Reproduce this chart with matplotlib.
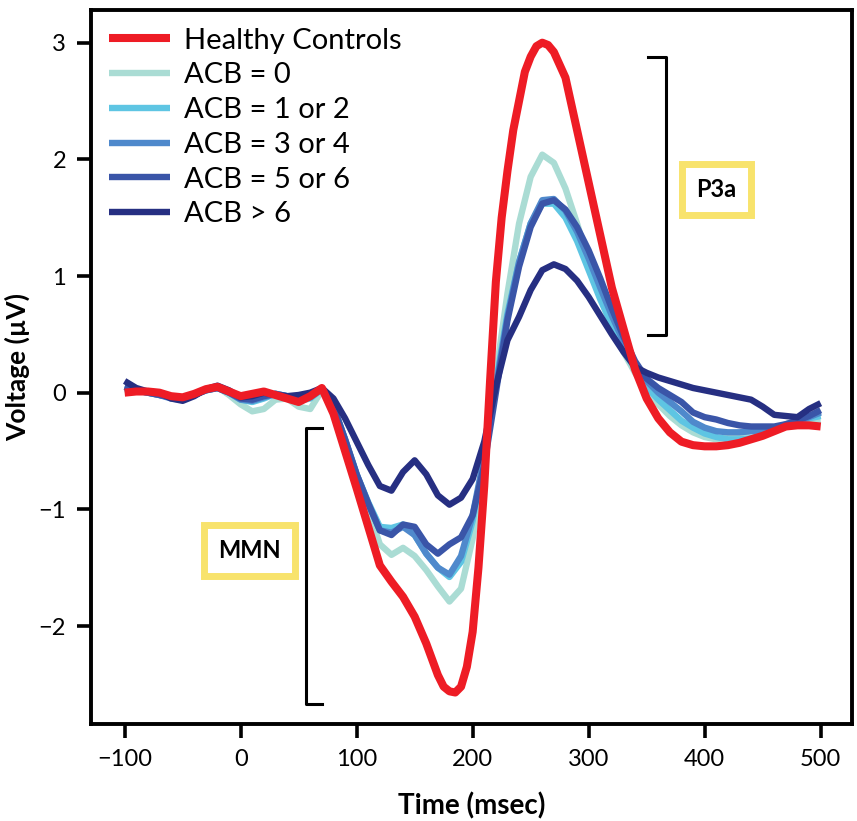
import matplotlib
matplotlib.use('Agg')
import matplotlib.pyplot as plt

plt.rcParams['font.family'] = ['Lato', 'DejaVu Sans']

time_ms = list(range(-100, 510, 10))

# red trace read at a finer step round the two peaks
healthy_ms = (list(range(-100, 170, 10)) + list(range(170, 275, 5))
              + list(range(280, 510, 10)))
healthy = [0.00, 0.01, 0.01, 0.00, -0.03, -0.04, -0.01, 0.03, 0.05, 0.01,
           -0.03, -0.01, 0.01, -0.02, -0.05, -0.08, -0.03, 0.04, -0.18, -0.50,
           -0.82, -1.15, -1.48, -1.62, -1.75, -1.92, -2.15,
           -2.42, -2.52, -2.56, -2.57, -2.52, -2.35, -2.05, -1.50, -0.80, 0.10,
           0.95, 1.50, 1.90, 2.25, 2.50, 2.75, 2.88, 2.97, 3.00, 2.98, 2.92,
           2.70, 2.25, 1.80, 1.35, 0.90, 0.55, 0.20, -0.05, -0.22, -0.34,
           -0.42, -0.45, -0.46, -0.46, -0.45, -0.43, -0.40, -0.37, -0.33, -0.29,
           -0.28, -0.28, -0.29]

acb_0 = [0.03, 0.02, 0.00, -0.02, -0.04, -0.04, -0.01, 0.03, 0.05, -0.02,
         -0.10, -0.16, -0.14, -0.06, -0.05, -0.12, -0.14, 0.02, -0.15, -0.42,
         -0.72, -1.00, -1.30, -1.39, -1.33, -1.40, -1.52, -1.66, -1.79, -1.68,
         -1.25, -0.62, 0.15, 0.85, 1.45, 1.85, 2.04, 1.97, 1.75, 1.45,
         1.12, 0.82, 0.56, 0.35, 0.17, 0.02, -0.10, -0.20, -0.28, -0.34,
         -0.38, -0.40, -0.38, -0.35, -0.33, -0.32, -0.30, -0.28, -0.26, -0.25,
         -0.24]

acb_1_2 = [0.04, 0.02, 0.00, -0.02, -0.04, -0.05, -0.02, 0.02, 0.04, 0.00,
           -0.06, -0.08, -0.05, -0.01, -0.03, -0.07, -0.05, 0.03, -0.12, -0.40,
           -0.70, -0.94, -1.15, -1.16, -1.13, -1.22, -1.38, -1.50, -1.58, -1.45,
           -1.10, -0.55, 0.08, 0.68, 1.12, 1.45, 1.62, 1.62, 1.50, 1.30,
           1.05, 0.80, 0.58, 0.38, 0.20, 0.05, -0.06, -0.15, -0.24, -0.30,
           -0.35, -0.38, -0.40, -0.40, -0.39, -0.36, -0.32, -0.27, -0.24, -0.22,
           -0.20]

acb_3_4 = [0.05, 0.02, 0.00, -0.02, -0.05, -0.06, -0.02, 0.02, 0.04, 0.00,
           -0.06, -0.07, -0.04, -0.01, -0.03, -0.06, -0.04, 0.03, -0.12, -0.40,
           -0.70, -0.95, -1.18, -1.20, -1.15, -1.22, -1.38, -1.50, -1.56, -1.40,
           -1.05, -0.55, 0.05, 0.65, 1.12, 1.45, 1.65, 1.66, 1.56, 1.38,
           1.15, 0.90, 0.66, 0.44, 0.25, 0.10, 0.00, -0.08, -0.16, -0.25,
           -0.30, -0.33, -0.34, -0.34, -0.33, -0.32, -0.31, -0.29, -0.25, -0.21,
           -0.17]

acb_5_6 = [0.05, 0.02, 0.00, -0.02, -0.04, -0.05, -0.02, 0.02, 0.04, 0.00,
           -0.05, -0.06, -0.03, -0.01, -0.03, -0.05, -0.02, 0.03, -0.12, -0.40,
           -0.70, -0.95, -1.18, -1.22, -1.13, -1.15, -1.30, -1.38, -1.30, -1.24,
           -1.05, -0.62, 0.00, 0.62, 1.08, 1.42, 1.62, 1.65, 1.57, 1.42,
           1.22, 0.98, 0.72, 0.48, 0.27, 0.12, 0.04, -0.02, -0.08, -0.17,
           -0.21, -0.23, -0.26, -0.28, -0.29, -0.29, -0.29, -0.27, -0.24, -0.20,
           -0.15]

acb_over_6 = [0.10, 0.04, 0.01, 0.00, -0.05, -0.07, -0.03, 0.03, 0.06, 0.02,
              -0.04, -0.03, 0.00, -0.02, -0.03, -0.02, 0.00, 0.04, -0.05, -0.22,
              -0.42, -0.62, -0.80, -0.84, -0.68, -0.58, -0.70, -0.88, -0.96, -0.90,
              -0.74, -0.42, 0.05, 0.45, 0.65, 0.88, 1.05, 1.10, 1.06, 0.96,
              0.82, 0.66, 0.50, 0.35, 0.22, 0.17, 0.13, 0.10, 0.07, 0.04,
              0.02, 0.00, -0.02, -0.04, -0.06, -0.12, -0.19, -0.20, -0.21, -0.14,
              -0.09]

labels = ['Healthy Controls', 'ACB = 0', 'ACB = 1 or 2', 'ACB = 3 or 4',
          'ACB = 5 or 6', 'ACB > 6']
colors = ['#ee1c25', '#aadcd4', '#5ec5e3', '#4f89cc', '#3a55a8', '#262f82']

# bracket ends (msec, µV)
p3a_bracket = ([351, 367, 367, 351], [2.88, 2.88, 0.49, 0.49])
mmn_bracket = ([70, 56, 56, 70], [-0.30, -0.30, -2.67, -2.67])

fig = plt.figure(figsize=(8.57, 8.21), dpi=100)
ax = fig.add_axes([91 / 857, 97 / 821, 761 / 857, 714 / 821])

series = [acb_0, acb_1_2, acb_3_4, acb_5_6, acb_over_6]
handles = {}
for vals, lab, col in zip(series, labels[1:], colors[1:]):
    h, = ax.plot(time_ms, vals, color=col, lw=4.6, label=lab,
                 solid_joinstyle='round', solid_capstyle='butt')
    handles[lab] = h
h, = ax.plot(healthy_ms, healthy, color=colors[0], lw=5.8, label=labels[0],
             solid_joinstyle='round', solid_capstyle='butt')
handles[labels[0]] = h

ax.plot(*p3a_bracket, color='black', lw=2.2)
ax.plot(*mmn_bracket, color='black', lw=2.2)

box = dict(boxstyle='square,pad=0.6', fc='white', ec='#f8e36c', lw=5)
ax.text(410, 1.74, 'P3a', fontsize=17, fontweight='bold', ha='center',
        va='center', bbox=box)
ax.text(8, -1.35, 'MMN', fontsize=17, fontweight='bold', ha='center',
        va='center', bbox=box)

ax.legend([handles[l] for l in labels], labels, loc='upper left',
          bbox_to_anchor=(0.0, 1.0), frameon=False, fontsize=21,
          handlelength=2.1, handletextpad=0.5, labelspacing=0.3,
          borderaxespad=0.2)

ax.set_xlim(-129, 527)
ax.set_ylim(-2.84, 3.28)
ax.set_xticks([-100, 0, 100, 200, 300, 400, 500])
ax.set_yticks([-2, -1, 0, 1, 2, 3])
ax.tick_params(direction='out', length=10, width=2.6, labelsize=17, pad=8)
for s in ax.spines.values():
    s.set_linewidth(2.8)

ax.set_xlabel('Time (msec)', fontsize=20, fontweight='bold', labelpad=16)
ax.set_ylabel('Voltage (µV)', fontsize=19, fontweight='bold', labelpad=6)

plt.savefig('out.png', dpi=100)
